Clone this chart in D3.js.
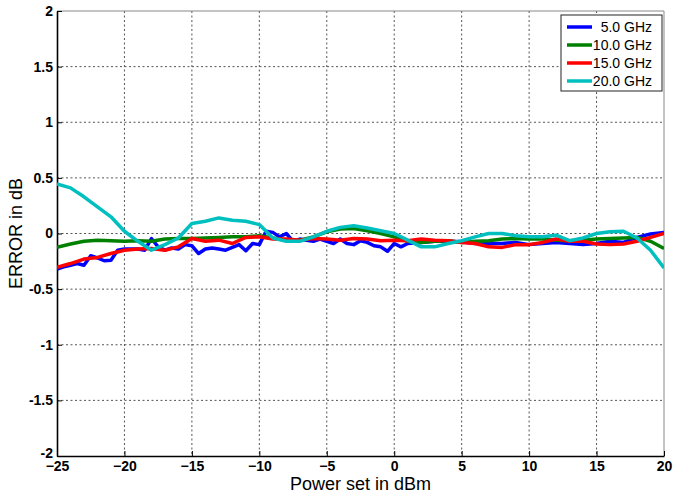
<!DOCTYPE html>
<html>
<head>
<meta charset="utf-8">
<script src="https://cdn.jsdelivr.net/npm/d3@7"></script>
<style>
  html, body { margin: 0; padding: 0; background: #fff; }
  svg { display: block; }
</style>
</head>
<body>
<svg id="chart" width="679" height="492"></svg>
<script>
// ---- data ----
const xGrid = [-25,-24,-23,-22,-21,-20,-19,-18,-17,-16,-15,-14,-13,-12,-11,-10,-9,-8,-7,-6,-5,-4,-3,-2,-1,0,1,2,3,4,5,6,7,8,9,10,11,12,13,14,15,16,17,18,19,20];
const xBlue = [-25,-24.5,-24,-23.5,-23,-22.5,-22,-21.5,-21,-20.5,-20,-19.5,-19,-18.5,-18,-17.5,-17,-16.5,-16,-15.5,-15,-14.5,-14,-13.5,-13,-12.5,-12,-11.5,-11,-10.5,-10,-9.5,-9,-8.5,-8,-7.5,-7,-6.5,-6,-5.5,-5,-4.5,-4,-3.5,-3,-2.5,-2,-1.5,-1,-0.5,0,0.5,1,2,3,4,5,6,7,8,9,10,11,12,13,14,15,16,17,18,19,20];
const ghz5 = [-0.32,-0.30,-0.285,-0.27,-0.285,-0.20,-0.22,-0.245,-0.24,-0.15,-0.14,-0.14,-0.14,-0.15,-0.045,-0.12,-0.15,-0.13,-0.14,-0.10,-0.11,-0.18,-0.14,-0.13,-0.14,-0.15,-0.125,-0.10,-0.155,-0.09,-0.10,0.02,0.01,-0.03,0.00,-0.07,-0.05,-0.06,-0.07,-0.05,-0.07,-0.09,-0.05,-0.09,-0.10,-0.065,-0.08,-0.11,-0.12,-0.16,-0.09,-0.12,-0.09,-0.08,-0.07,-0.07,-0.075,-0.09,-0.09,-0.09,-0.08,-0.10,-0.09,-0.08,-0.09,-0.10,-0.09,-0.07,-0.08,-0.035,-0.005,0.01];
const ghz10 = [-0.125,-0.095,-0.07,-0.06,-0.065,-0.07,-0.065,-0.07,-0.05,-0.045,-0.045,-0.04,-0.035,-0.03,-0.03,-0.02,-0.04,-0.06,-0.06,-0.03,0.015,0.04,0.045,0.025,0.0,-0.03,-0.07,-0.08,-0.07,-0.065,-0.08,-0.07,-0.065,-0.05,-0.045,-0.05,-0.05,-0.06,-0.065,-0.06,-0.05,-0.045,-0.04,-0.035,-0.07,-0.135];
const ghz15 = [-0.305,-0.27,-0.23,-0.215,-0.18,-0.15,-0.14,-0.135,-0.15,-0.12,-0.045,-0.07,-0.06,-0.09,-0.035,-0.03,-0.05,-0.05,-0.06,-0.045,-0.05,-0.06,-0.045,-0.05,-0.065,-0.06,-0.065,-0.05,-0.06,-0.065,-0.08,-0.09,-0.12,-0.125,-0.10,-0.10,-0.08,-0.05,-0.07,-0.07,-0.095,-0.10,-0.095,-0.07,-0.035,0.0];
const ghz20 = [0.445,0.41,0.33,0.24,0.15,0.02,-0.07,-0.15,-0.10,-0.04,0.09,0.11,0.14,0.12,0.11,0.08,-0.04,-0.07,-0.07,-0.03,0.02,0.055,0.07,0.05,0.025,0.0,-0.06,-0.12,-0.12,-0.09,-0.065,-0.03,0.0,0.0,-0.02,-0.03,-0.03,-0.015,-0.065,-0.04,0.0,0.015,0.02,-0.04,-0.15,-0.31];
const seriesNames = ["5.0 GHz","10.0 GHz","15.0 GHz","20.0 GHz"];
const seriesColors = ["#0000ff","#008000","#ff0000","#00bfbf"];
const xTicks = [-25,-20,-15,-10,-5,0,5,10,15,20];
const yTicks = [-2,-1.5,-1,-0.5,0,0.5,1,1.5,2];

// ---- layout ----
const svg = d3.select("#chart");
const L = 57, R = 664, T = 11, B = 456;
const x = d3.scaleLinear().domain([-25, 20]).range([L, R]);
const y = d3.scaleLinear().domain([-2, 2]).range([B, T]);
const font = "Arial, 'Liberation Sans', sans-serif";

svg.append("rect").attr("x",0).attr("y",0).attr("width",679).attr("height",492).attr("fill","#fff");

// grid
const grid = svg.append("g");
xTicks.slice(1, -1).forEach(t => {
  grid.append("line").attr("x1", x(t)).attr("x2", x(t)).attr("y1", T).attr("y2", B)
    .attr("stroke", "#555").attr("stroke-width", 1).attr("stroke-dasharray", "2,2.5");
});
yTicks.slice(1, -1).forEach(t => {
  grid.append("line").attr("x1", L).attr("x2", R).attr("y1", y(t)).attr("y2", y(t))
    .attr("stroke", "#555").attr("stroke-width", 1).attr("stroke-dasharray", "2,2.5");
});

// box: top/right grey
svg.append("line").attr("x1", L).attr("x2", R).attr("y1", T).attr("y2", T).attr("stroke", "#888").attr("stroke-width", 1);
svg.append("line").attr("x1", R).attr("x2", R).attr("y1", T).attr("y2", B).attr("stroke", "#888").attr("stroke-width", 1);

// axes via d3
const xAxis = d3.axisBottom(x).tickValues(xTicks).tickSize(-5).tickSizeOuter(0).tickPadding(8).tickFormat(d3.format("d"));
const yAxis = d3.axisLeft(y).tickValues(yTicks).tickSize(-5).tickSizeOuter(0).tickPadding(8).tickFormat(d => String(d));

const gx = svg.append("g").attr("transform", `translate(0,${B})`).call(xAxis);
const gy = svg.append("g").attr("transform", `translate(${L},0)`).call(yAxis);
[gx, gy].forEach(g => {
  g.select(".domain").attr("stroke", "#000").attr("stroke-width", 1.6);
  g.selectAll(".tick line").attr("stroke", "#000").attr("stroke-width", 1);
  g.selectAll(".tick text").attr("fill", "#000").attr("font-family", font)
    .attr("font-size", 14).attr("font-weight", "bold");
});
gx.selectAll(".tick text").attr("y", 14.5).attr("dy", 0);
gy.selectAll(".tick text").attr("x", -4);
gy.selectAll(".tick").filter(d => d === -2).select("text").attr("dy", "0.1em");

// lines
const datasets = [
  xBlue.map((v, i) => [v, ghz5[i]]),
  xGrid.map((v, i) => [v, ghz10[i]]),
  xGrid.map((v, i) => [v, ghz15[i]]),
  xGrid.map((v, i) => [v, ghz20[i]])
];
const line = d3.line().x(d => x(d[0])).y(d => y(d[1]));
svg.append("clipPath").attr("id", "clip").append("rect")
  .attr("x", L).attr("y", T).attr("width", R - L).attr("height", B - T);
datasets.forEach((ds, i) => {
  svg.append("path").datum(ds).attr("d", line)
    .attr("fill", "none").attr("stroke", seriesColors[i]).attr("stroke-width", 3.5)
    .attr("stroke-linejoin", "round").attr("clip-path", "url(#clip)");
});

// legend
const lg = svg.append("g");
lg.append("rect").attr("x", 561).attr("y", 15).attr("width", 101).attr("height", 76)
  .attr("fill", "#fff").attr("stroke", "#222").attr("stroke-width", 1);
const legY = [27, 45, 63, 81];
seriesNames.forEach((n, i) => {
  lg.append("line").attr("x1", 567).attr("x2", 592).attr("y1", legY[i]).attr("y2", legY[i])
    .attr("stroke", seriesColors[i]).attr("stroke-width", 3.5);
  lg.append("text").attr("x", 652).attr("y", legY[i]).attr("dy", "0.36em")
    .attr("text-anchor", "end").attr("font-family", font).attr("font-size", 14)
    .attr("fill", "#000").text(n);
});

// axis labels
svg.append("text").attr("x", (L + R) / 2).attr("y", 489.5).attr("text-anchor", "middle")
  .attr("font-family", font).attr("font-size", 18).attr("fill", "#000").text("Power set in dBm");
svg.append("text").attr("transform", `translate(22,${(T + B) / 2}) rotate(-90)`)
  .attr("text-anchor", "middle").attr("font-family", font).attr("font-size", 18)
  .attr("fill", "#000").text("ERROR in dB");
</script>
</body>
</html>
